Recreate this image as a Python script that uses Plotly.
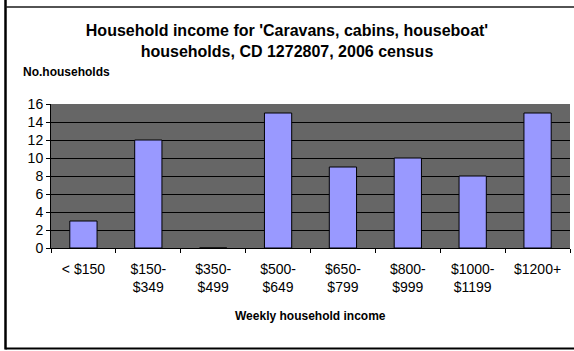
import plotly.graph_objects as go

categories = ["< $150", "$150-<br>$349", "$350-<br>$499", "$500-<br>$649",
              "$650-<br>$799", "$800-<br>$999", "$1000-<br>$1199", "$1200+"]
households = [3, 12, 0, 15, 9, 10, 8, 15]
y_ticks = [0, 2, 4, 6, 8, 10, 12, 14, 16]

W, H = 574, 351
L, R, T, B = 51, 4, 104, 103
pw, ph = W - L - R, H - T - B

def px_x(px):
    return (px - L) / pw

def px_y(py):
    return (H - B - py) / ph

FONT = "Liberation Sans, Arial, sans-serif"

fig = go.Figure()
fig.add_trace(go.Bar(
    x=categories, y=households,
    marker=dict(color="#9999FF", line=dict(color="black", width=1)),
    showlegend=False,
))

fig.update_layout(
    width=W, height=H,
    margin=dict(l=L, r=R, t=T, b=B),
    paper_bgcolor="white",
    plot_bgcolor="#666666",
    bargap=0.58,
    font=dict(family=FONT, color="black", size=13),
    title=dict(
        text="Household income for 'Caravans, cabins, houseboat'<br>households, CD 1272807, 2006 census",
        x=0.5, xref="container", xanchor="center",
        y=1 - 36 / H, yref="container", yanchor="top",
        font=dict(family=FONT, size=16, color="black", weight="bold"),
    ),
    xaxis=dict(
        type="category", tickson="boundaries", ticks="outside", ticklen=4,
        tickcolor="black", showline=True, linecolor="black", linewidth=1,
        showgrid=False, tickfont=dict(size=14), tickangle=0,
        ticklabelstandoff=8,
        range=[-0.5, 7.5],
    ),
    yaxis=dict(
        range=[0, 16], tickvals=y_ticks, ticks="outside", ticklen=4,
        tickcolor="black", showline=True, linecolor="black", linewidth=1,
        showgrid=True, gridcolor="black", gridwidth=1, zeroline=False,
        tickfont=dict(size=14),
    ),
    annotations=[
        dict(text="No.households", xref="paper", yref="paper",
             x=px_x(21), y=px_y(72), xanchor="left", yanchor="middle",
             showarrow=False, font=dict(family=FONT, size=12, weight="bold")),
        dict(text="Weekly household income", xref="paper", yref="paper",
             x=0.5, y=px_y(316), xanchor="center", yanchor="middle",
             showarrow=False, font=dict(family=FONT, size=12, weight="bold")),
    ],
    shapes=[
        dict(type="line", xref="paper", yref="paper",
             x0=px_x(5.5), x1=px_x(5.5), y0=px_y(0), y1=px_y(349.5),
             line=dict(color="black", width=2.5)),
        dict(type="line", xref="paper", yref="paper",
             x0=px_x(5.5), x1=px_x(580), y0=px_y(7), y1=px_y(7),
             line=dict(color="#1a1a1a", width=1.5)),
        dict(type="line", xref="paper", yref="paper",
             x0=px_x(5.5), x1=px_x(580), y0=px_y(348.5), y1=px_y(348.5),
             line=dict(color="black", width=2)),
    ],
)

fig.write_html("out.html")
